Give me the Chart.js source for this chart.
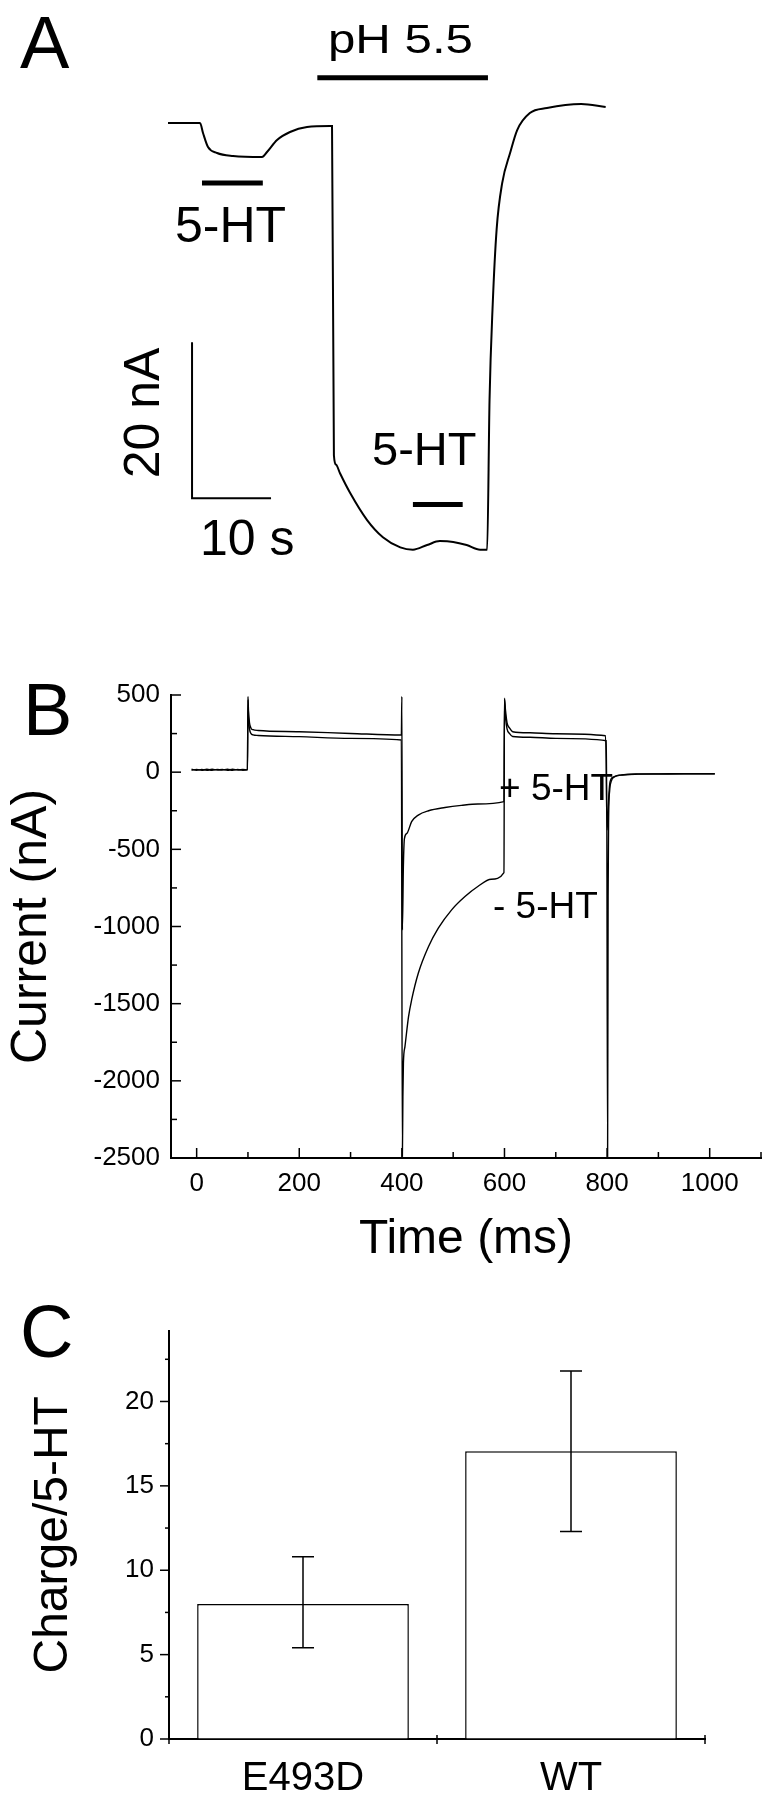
<!DOCTYPE html>
<html>
<head>
<meta charset="utf-8">
<script src="https://cdn.jsdelivr.net/npm/chart.js@4.4.1/dist/chart.umd.min.js"></script>
<style>
    html, body { margin: 0; padding: 0; background: #fff; }
    #page { position: relative; width: 768px; height: 1800px; }
    .panel { position: absolute; left: 0; width: 768px; }
</style>
</head>
<body>
<div id="page">
    <div class="panel" style="top:0;height:600px"><canvas id="chartA"></canvas></div>
    <div class="panel" style="top:640px;height:660px"><canvas id="chartB"></canvas></div>
    <div class="panel" style="top:1300px;height:500px"><canvas id="chartC"></canvas></div>
</div>
<script>
const FONT = '"Liberation Sans", Arial, Helvetica, sans-serif';

// Panel A: current trace, time in s, current in nA
const aTime = [0, 4.05, 4.43, 5.06, 6.2, 8.23, 11.9, 12.53, 13.8, 15.44, 17.6, 20.5, 20.76,
    21.0, 21.27, 21.77, 23.04, 25.2, 27.2, 29.4, 31.0, 32.8, 34.4, 36.1, 37.8, 39.5, 40.4,
    40.7, 41.1, 41.6, 42.3, 43.3, 44.2, 45.8, 47.97, 52.3, 55.4];
const aCurrent = [0, 0, -1.28, -3.08, -3.85, -4.23, -4.36, -3.72, -2.18, -1.15, -0.51, -0.38, -0.38,
    -42.6, -43.8, -44.9, -47.4, -50.9, -53.1, -54.4, -54.7, -54.1, -53.6, -53.7, -54.1, -54.7, -54.7,
    -35.5, -23.3, -13.6, -7.7, -3.85, -0.9, 1.28, 1.92, 2.44, 2.05];
const aPhWindow = [18.9, 40.5];
const aSerotoninWindows = [[4.3, 12.0], [31.0, 37.3]];
const aScaleBarTime = 10;     // s
const aScaleBarCurrent = 20;  // nA

// Panel B: currents with and without 5-HT
const bTimeTicks = [0, 200, 400, 600, 800, 1000];
const bTimeMinor = [100, 300, 500, 700, 900, 1100];
const bCurrentTicks = [500, 0, -500, -1000, -1500, -2000, -2500];
const bCurrentMinor = [250, -250, -750, -1250, -1750, -2250];

const bPlusTime = [-10, 0, 10, 20, 30, 40, 50, 60, 70, 80, 90, 99,
    100, 101, 103, 106, 110, 120, 200, 300, 399,
    400, 401, 403, 405, 410, 419, 432, 452, 484, 516, 548, 599,
    600, 602, 605, 610, 616, 650, 700, 797,
    800, 802, 804, 806, 813, 826, 858, 900, 950, 1010];
const bPlusCurrent = [20, 12, 18, 12, 19, 13, 18, 12, 19, 13, 18, 15,
    490, 400, 320, 285, 275, 270, 262, 251, 241,
    490, -1023, -600, -430, -396, -321, -278, -250, -229, -215, -206, -191,
    480, 400, 320, 285, 262, 255, 249, 236,
    -375, -250, -120, -60, -30, -19, -12, -11, -10, -10];

const bMinusTime = [-10, 0, 10, 20, 30, 40, 50, 60, 70, 80, 90, 99,
    100, 101, 103, 106, 110, 120, 200, 300, 399,
    401, 402, 403, 406, 413, 419, 432, 452, 471, 497, 523, 548, 574, 599,
    600, 602, 605, 610, 616, 650, 700, 799,
    801, 802, 803, 805, 808, 815, 830, 860, 900, 950, 1010];
const bMinusCurrent = [12, 18, 12, 19, 12, 18, 13, 19, 12, 18, 12, 16,
    470, 360, 280, 250, 242, 238, 230, 219, 208,
    -2490, -2100, -1886, -1778, -1584, -1476, -1303, -1130, -1011, -892, -806, -741, -694, -651,
    470, 360, 280, 250, 231, 226, 219, 204,
    -2490, -800, -300, -120, -60, -30, -18, -13, -12, -11, -11];

// Panel C: charge per 5-HT
const cGroups = ['E493D', 'WT'];
const cCharge = [8.0, 17.05];
const cErrHigh = [10.8, 21.8];
const cErrLow = [5.4, 12.3];
const cTicks = [0, 5, 10, 15, 20];
const cMinor = [2.5, 7.5, 12.5, 17.5, 22.5];

Chart.defaults.font.family = FONT;
Chart.defaults.color = '#000';
Chart.defaults.animation = false;

function toPoints(xs, ys) {
    return xs.map((x, i) => ({ x: x, y: ys[i] }));
}

/**
 * @brief Draws major/minor tick marks with the chart's own scales.
 */
function tickMarks(specs) {
    return {
        id: 'tickMarks',
        afterDraw(chart) {
            const ctx = chart.ctx;
            const area = chart.chartArea;
            ctx.save();
            ctx.strokeStyle = '#000';
            ctx.lineWidth = 1.5;
            specs.forEach(s => {
                const scale = chart.scales[s.axis];
                const marks = s.major.map(v => [v, s.majorLen])
                    .concat(s.minor.map(v => [v, s.minorLen]));
                marks.forEach(([v, len]) => {
                    const p = scale.getPixelForValue(v);
                    ctx.beginPath();
                    if (s.axis === 'x') {
                        ctx.moveTo(p, area.bottom);
                        ctx.lineTo(p, area.bottom + s.dir * len);
                    } else {
                        ctx.moveTo(area.left, p);
                        ctx.lineTo(area.left + s.dir * len, p);
                    }
                    ctx.stroke();
                });
            });
            ctx.restore();
        }
    };
}

function setTicks(values) {
    return scale => { scale.ticks = values.map(v => ({ value: v })); };
}

// ---------- Panel A ----------
const panelAExtras = {
    id: 'panelAExtras',
    afterDraw(chart) {
        const x = chart.scales.x, y = chart.scales.y, ctx = chart.ctx;
        ctx.save();
        ctx.fillStyle = '#000';
        ctx.strokeStyle = '#000';

        // application bars
        ctx.lineWidth = 5;
        const bar = (t0, t1, level) => {
            ctx.beginPath();
            ctx.moveTo(x.getPixelForValue(t0), y.getPixelForValue(level));
            ctx.lineTo(x.getPixelForValue(t1), y.getPixelForValue(level));
            ctx.stroke();
        };
        bar(aPhWindow[0], aPhWindow[1], 5.8);
        bar(aSerotoninWindows[0][0], aSerotoninWindows[0][1], -7.7);
        bar(aSerotoninWindows[1][0], aSerotoninWindows[1][1], -48.9);

        // scale bar
        const t0 = 3.04, i0 = -48.1;
        ctx.lineWidth = 2;
        ctx.beginPath();
        ctx.moveTo(x.getPixelForValue(t0), y.getPixelForValue(i0 + aScaleBarCurrent));
        ctx.lineTo(x.getPixelForValue(t0), y.getPixelForValue(i0));
        ctx.lineTo(x.getPixelForValue(t0 + aScaleBarTime), y.getPixelForValue(i0));
        ctx.stroke();

        ctx.font = '74px ' + FONT;
        ctx.fillText('A', 20, 68);

        ctx.save();
        ctx.translate(328, 53);
        ctx.scale(1.2, 1);
        ctx.font = '41px ' + FONT;
        ctx.fillText('pH 5.5', 0, 0);
        ctx.restore();

        ctx.font = '50px ' + FONT;
        ctx.fillText('5-HT', 175, 242);
        ctx.fillText('10 s', 200, 555);
        ctx.font = '47px ' + FONT;
        ctx.fillText('5-HT', 372, 465);

        ctx.save();
        ctx.translate(159, 413);
        ctx.rotate(-Math.PI / 2);
        ctx.textAlign = 'center';
        ctx.font = '50px ' + FONT;
        ctx.fillText('20 nA', 0, 0);
        ctx.restore();

        ctx.restore();
    }
};

new Chart(document.getElementById('chartA'), {
    type: 'line',
    data: {
        datasets: [{
            data: toPoints(aTime, aCurrent),
            borderColor: '#000',
            borderWidth: 2,
            pointRadius: 0,
            cubicInterpolationMode: 'monotone'
        }]
    },
    options: {
        responsive: true,
        maintainAspectRatio: false,
        layout: { padding: 0 },
        plugins: { legend: { display: false }, tooltip: { enabled: false } },
        scales: {
            x: { type: 'linear', display: false, min: -21.27, max: 75.95 },
            y: { type: 'linear', display: false, min: -61.15, max: 15.77 }
        }
    },
    plugins: [panelAExtras]
});

// ---------- Panel B ----------
const panelBExtras = {
    id: 'panelBExtras',
    afterDraw(chart) {
        const ctx = chart.ctx;
        ctx.save();
        ctx.fillStyle = '#000';
        ctx.font = '74px ' + FONT;
        ctx.fillText('B', 23, 95);
        ctx.font = '37px ' + FONT;
        ctx.fillText('+ 5-HT', 499, 160);
        ctx.fillText('- 5-HT', 493, 278);
        ctx.restore();
    }
};

new Chart(document.getElementById('chartB'), {
    type: 'line',
    data: {
        datasets: [
            {
                label: '+ 5-HT',
                data: toPoints(bPlusTime, bPlusCurrent),
                borderColor: '#000',
                borderWidth: 1.4,
                pointRadius: 0,
                cubicInterpolationMode: 'monotone'
            },
            {
                label: '- 5-HT',
                data: toPoints(bMinusTime, bMinusCurrent),
                borderColor: '#000',
                borderWidth: 1.4,
                pointRadius: 0,
                cubicInterpolationMode: 'monotone'
            }
        ]
    },
    options: {
        responsive: true,
        maintainAspectRatio: false,
        layout: { padding: { top: 55, right: 7, left: 0, bottom: 0 } },
        plugins: { legend: { display: false }, tooltip: { enabled: false } },
        scales: {
            x: {
                type: 'linear',
                min: -50,
                max: 1100,
                afterBuildTicks: setTicks(bTimeTicks),
                afterFit: scale => { scale.height = 142; },
                grid: { drawOnChartArea: false, drawTicks: false },
                border: { color: '#000', width: 2 },
                ticks: { font: { size: 26 }, padding: 10, maxRotation: 0, autoSkip: false,
                    callback: v => String(v) },
                title: { display: true, text: 'Time (ms)', font: { size: 48 },
                    padding: { top: 0, bottom: 31 } }
            },
            y: {
                type: 'linear',
                min: -2500,
                max: 500,
                afterBuildTicks: setTicks(bCurrentTicks),
                afterFit: scale => { scale.width = 171; },
                grid: { drawOnChartArea: false, drawTicks: false },
                border: { color: '#000', width: 2 },
                ticks: { font: { size: 26 }, padding: 11, autoSkip: false,
                    callback: v => String(v) },
                title: { display: true, text: 'Current (nA)', font: { size: 50 },
                    padding: { top: 2, bottom: 0 } }
            }
        }
    },
    plugins: [
        tickMarks([
            { axis: 'x', major: bTimeTicks, minor: bTimeMinor, majorLen: 10, minorLen: 6, dir: -1 },
            { axis: 'y', major: bCurrentTicks, minor: bCurrentMinor, majorLen: 10, minorLen: 6, dir: 1 }
        ]),
        panelBExtras
    ]
});

// ---------- Panel C ----------
const panelCExtras = {
    id: 'panelCExtras',
    afterDatasetsDraw(chart) {
        const ctx = chart.ctx;
        const y = chart.scales.y;
        const bars = chart.getDatasetMeta(0).data;
        ctx.save();
        ctx.strokeStyle = '#000';
        ctx.lineWidth = 1.5;
        bars.forEach((bar, i) => {
            const top = y.getPixelForValue(cErrHigh[i]);
            const bottom = y.getPixelForValue(cErrLow[i]);
            ctx.beginPath();
            ctx.moveTo(bar.x, top);
            ctx.lineTo(bar.x, bottom);
            ctx.moveTo(bar.x - 11, top);
            ctx.lineTo(bar.x + 11, top);
            ctx.moveTo(bar.x - 11, bottom);
            ctx.lineTo(bar.x + 11, bottom);
            ctx.stroke();
        });
        ctx.restore();
    },
    afterDraw(chart) {
        const ctx = chart.ctx;
        const x = chart.scales.x;
        const area = chart.chartArea;
        ctx.save();
        ctx.strokeStyle = '#000';
        ctx.lineWidth = 1.5;
        const mid = (x.getPixelForValue(0) + x.getPixelForValue(1)) / 2;
        [area.left, mid, area.right].forEach(px => {
            ctx.beginPath();
            ctx.moveTo(px, area.bottom - 4);
            ctx.lineTo(px, area.bottom + 5);
            ctx.stroke();
        });
        ctx.fillStyle = '#000';
        ctx.font = '74px ' + FONT;
        ctx.fillText('C', 20, 57);
        ctx.restore();
    }
};

new Chart(document.getElementById('chartC'), {
    type: 'bar',
    data: {
        labels: cGroups,
        datasets: [{
            data: cCharge,
            backgroundColor: '#fff',
            borderColor: '#000',
            borderWidth: 1.5,
            barPercentage: 0.79,
            categoryPercentage: 1
        }]
    },
    options: {
        responsive: true,
        maintainAspectRatio: false,
        layout: { padding: { top: 19, right: 63, left: 0, bottom: 0 } },
        plugins: { legend: { display: false }, tooltip: { enabled: false } },
        scales: {
            x: {
                afterFit: scale => { scale.height = 61; },
                grid: { drawOnChartArea: false, drawTicks: false },
                border: { color: '#000', width: 2 },
                ticks: { font: { size: 40 }, padding: 16 }
            },
            y: {
                min: 0,
                max: 24.2,
                afterBuildTicks: setTicks(cTicks),
                afterFit: scale => { scale.width = 169; },
                grid: { drawOnChartArea: false, drawTicks: false },
                border: { color: '#000', width: 2 },
                ticks: { font: { size: 26 }, padding: 15, autoSkip: false,
                    callback: v => String(v) },
                title: { display: true, text: 'Charge/5-HT', font: { size: 48 },
                    padding: { top: 25, bottom: 0 } }
            }
        }
    },
    plugins: [
        tickMarks([
            { axis: 'y', major: cTicks, minor: cMinor, majorLen: 9, minorLen: 4, dir: -1 }
        ]),
        panelCExtras
    ]
});
</script>
</body>
</html>
